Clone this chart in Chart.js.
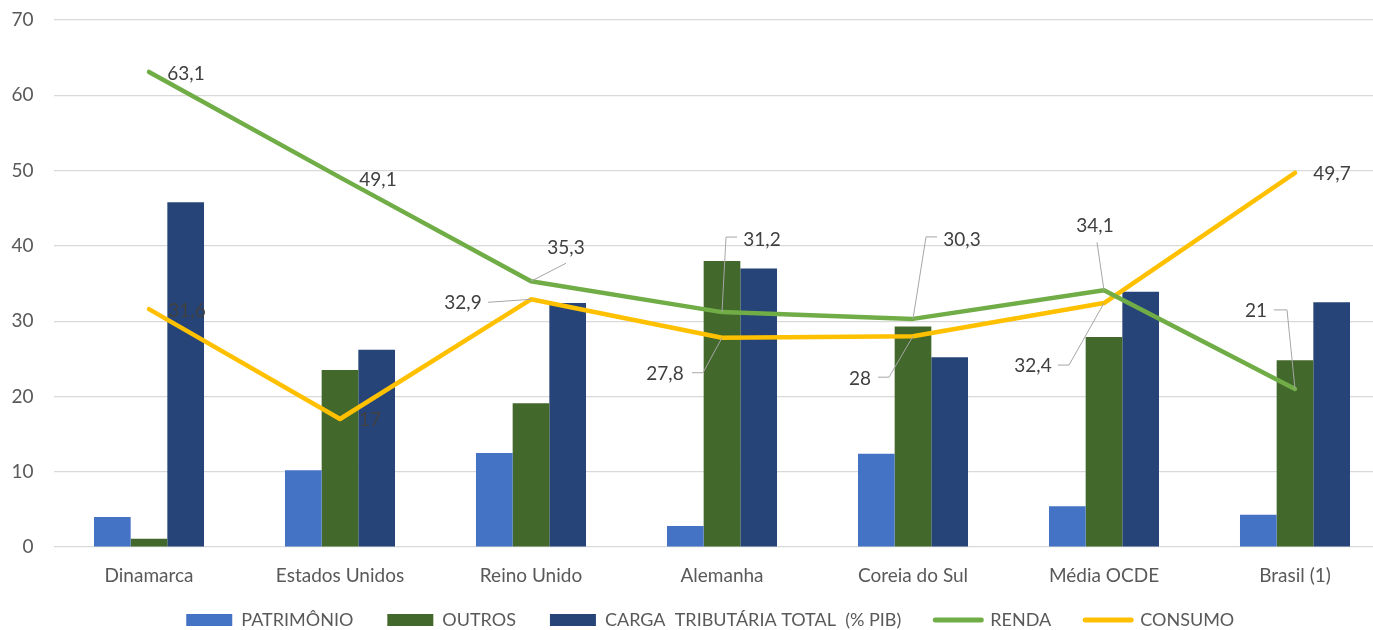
<!DOCTYPE html>
<html><head><meta charset="utf-8">
<script src="https://cdn.jsdelivr.net/npm/chart.js@4"></script>
<style>
html,body{margin:0;padding:0;background:#fff;overflow:hidden;width:1373px;height:630px;}
#wrap{width:1420px;height:654px;position:relative;}
</style></head>
<body><div id="wrap"><canvas id="c"></canvas></div>
<script>
const categories = ['Dinamarca','Estados Unidos','Reino Unido','Alemanha','Coreia do Sul','Média OCDE','Brasil (1)'];
const patrimonio = [4.0, 10.2, 12.5, 2.8, 12.4, 5.4, 4.3];
const outros = [1.1, 23.5, 19.1, 38.0, 29.3, 27.9, 24.8];
const cargaTotal = [45.8, 26.2, 32.4, 37.0, 25.2, 33.9, 32.5];
const renda = [63.1, 49.1, 35.3, 31.2, 30.3, 34.1, 21];
const consumo = [31.6, 17, 32.9, 27.8, 28, 32.4, 49.7];
const yMin = 0, yMax = 70, yStep = 10;

const FONT = 'Lato';
const FS = 19;
const LEG_FS = 18;

// label placement (pixel offsets from the data point) and leader paths
const rendaLabels = [
  {dx:37, dy:2},
  {dx:38, dy:3},
  {dx:35, dy:-33, leader:[[35,-18]]},
  {dx:40, dy:-72, leader:[[4,-75],[15,-75]]},
  {dx:49, dy:-79, leader:[[13,-82],[24,-82]]},
  {dx:-9, dy:-64, leader:[[-7,-48]]},
  {dx:-39, dy:-78, leader:[[-8,-79],[-21,-79]]}
];
const consumoLabels = [
  {dx:38, dy:2},
  {dx:30, dy:1},
  {dx:-68, dy:4, leader:[[-43,3]]},
  {dx:-57, dy:36, leader:[[-19,35],[-30,35]]},
  {dx:-53, dy:43, leader:[[-24,41],[-35,41]]},
  {dx:-71, dy:63, leader:[[-35,62],[-46,62]]},
  {dx:37, dy:1}
];

const fmt = v => String(v).replace('.', ',');

const dataLabelPlugin = {
  id: 'dl',
  afterDatasetsDraw(chart) {
    const ctx = chart.ctx;
    ctx.save();
    [[3, rendaLabels], [4, consumoLabels]].forEach(([di, specs]) => {
      const meta = chart.getDatasetMeta(di);
      meta.data.forEach((pt, i) => {
        const s = specs[i];
        const v = chart.data.datasets[di].data[i];
        if (s.leader) {
          ctx.beginPath();
          ctx.moveTo(pt.x, pt.y);
          s.leader.forEach(([lx, ly]) => ctx.lineTo(pt.x + lx, pt.y + ly));
          ctx.strokeStyle = '#a6a6a6';
          ctx.lineWidth = 1;
          ctx.stroke();
        }
        ctx.font = FS + 'px ' + FONT;
        ctx.fillStyle = '#404040';
        ctx.textAlign = 'center';
        ctx.textBaseline = 'middle';
        ctx.fillText(fmt(v), pt.x + s.dx, pt.y + s.dy);
      });
    });
    ctx.restore();
  }
};

// move the legend row so that it sits where the reference has it
const LEGEND_LIFT = 15;
const LEGEND_SHIFT_X = 15;
const legendShiftPlugin = {
  id: 'legendShift',
  afterLayout(chart) {
    const lg = chart.legend;
    if (lg) {
      lg.top -= LEGEND_LIFT;
      lg.bottom -= LEGEND_LIFT;
      lg.left += LEGEND_SHIFT_X;
      lg.right += LEGEND_SHIFT_X;
    }
  }
};

const LEG_PAD = 34;

new Chart(document.getElementById('c'), {
  type: 'bar',
  data: {
    labels: categories,
    datasets: [
      {label: 'PATRIMÔNIO', data: patrimonio, backgroundColor: '#4472c4', order: 1},
      {label: 'OUTROS', data: outros, backgroundColor: '#43682b', order: 1},
      {label: 'CARGA  TRIBUTÁRIA TOTAL  (% PIB)', data: cargaTotal, backgroundColor: '#264478', order: 1},
      {type: 'line', label: 'RENDA', data: renda, borderColor: '#70ad47', backgroundColor: '#70ad47', borderWidth: 4.5, pointRadius: 0, tension: 0, borderJoinStyle: 'round', borderCapStyle: 'round', order: 0},
      {type: 'line', label: 'CONSUMO', data: consumo, borderColor: '#ffc000', backgroundColor: '#ffc000', borderWidth: 4.5, pointRadius: 0, tension: 0, borderJoinStyle: 'round', borderCapStyle: 'round', order: 0}
    ]
  },
  options: {
    responsive: true,
    maintainAspectRatio: false,
    animation: false,
    datasets: {bar: {categoryPercentage: 0.576, barPercentage: 1.0}},
    layout: {padding: {left: 0, right: 29.5, top: 0, bottom: 0}},
    plugins: {
      tooltip: {enabled: false},
      legend: {
        position: 'bottom',
        labels: {
          usePointStyle: true,
          pointStyleWidth: 46,
          boxHeight: 12,
          padding: LEG_PAD,
          color: '#595959',
          font: {family: FONT, size: LEG_FS},
          sort: (a, b) => a.datasetIndex - b.datasetIndex,
          generateLabels(chart) {
            return chart.data.datasets.map((ds, i) => {
              const isLine = ds.type === 'line';
              return {
                text: ds.label,
                datasetIndex: i,
                fillStyle: ds.backgroundColor,
                strokeStyle: isLine ? ds.borderColor : ds.backgroundColor,
                lineWidth: isLine ? 5 : 0,
                lineCap: 'round',
                pointStyle: isLine ? 'line' : 'rect',
                fontColor: '#595959',
                hidden: false
              };
            });
          }
        }
      }
    },
    scales: {
      x: {
        grid: {display: false},
        border: {display: false},
        ticks: {color: '#595959', font: {family: FONT, size: FS}, padding: 9},
        afterFit(scale) { scale.height = 45; }
      },
      y: {
        min: yMin, max: yMax,
        ticks: {stepSize: yStep, color: '#595959', font: {family: FONT, size: FS}, padding: 20},
        grid: {color: '#d9d9d9', lineWidth: 1.2, drawTicks: false},
        border: {display: false},
        afterFit(scale) { scale.width = 53.5; scale.paddingTop = 20; scale.paddingBottom = 0; }
      }
    }
  },
  plugins: [dataLabelPlugin, legendShiftPlugin]
});
</script>
</body></html>
